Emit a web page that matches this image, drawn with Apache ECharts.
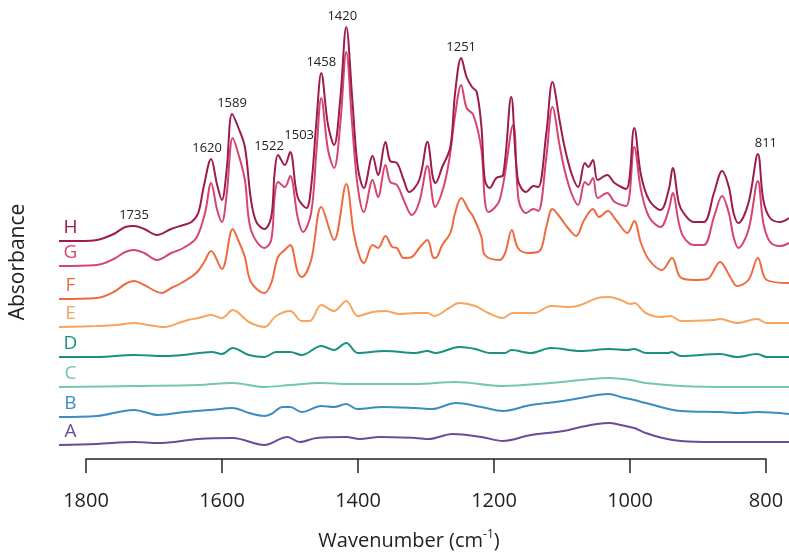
<!DOCTYPE html>
<html>
<head>
<meta charset="utf-8">
<script src="https://cdn.jsdelivr.net/npm/echarts@6/dist/echarts.min.js"></script>
<style>
  html, body { margin: 0; padding: 0; background: #fff; }
  #chart { width: 789px; height: 556px; }
</style>
</head>
<body>
<div id="chart"></div>
<script>
// spectra, [wavenumber, absorbance offset]
const specA = [[1846,0.18],[1790,0.19],[1735,0.21],[1699,0.20],[1640,0.24],[1589,0.25],[1542,0.18],[1535,0.19],[1508,0.26],[1490,0.21],[1465,0.25],[1421,0.26],[1401,0.24],[1372,0.26],[1319,0.25],[1299,0.24],[1264,0.29],[1221,0.26],[1189,0.22],[1148,0.28],[1100,0.32],[1074,0.36],[1050,0.39],[1032,0.40],[1015,0.38],[995,0.35],[978,0.30],[953,0.25],[926,0.22],[877,0.21],[828,0.21],[766,0.21]];
const specB = [[1846,0.46],[1790,0.47],[1735,0.53],[1699,0.48],[1660,0.51],[1623,0.53],[1589,0.55],[1565,0.50],[1542,0.47],[1532,0.49],[1515,0.56],[1504,0.56],[1487,0.51],[1458,0.57],[1439,0.56],[1421,0.59],[1405,0.54],[1367,0.56],[1319,0.55],[1294,0.54],[1259,0.60],[1221,0.56],[1189,0.52],[1148,0.58],[1100,0.62],[1074,0.65],[1050,0.68],[1032,0.69],[1015,0.66],[995,0.63],[978,0.60],[926,0.52],[868,0.51],[838,0.50],[813,0.51],[766,0.49]];
const specC = [[1846,0.76],[1735,0.77],[1640,0.78],[1589,0.80],[1542,0.76],[1504,0.78],[1460,0.80],[1416,0.79],[1319,0.79],[1259,0.81],[1190,0.77],[1120,0.80],[1074,0.83],[1032,0.85],[1000,0.83],[978,0.80],[926,0.77],[850,0.76],[766,0.76]];
const specD = [[1846,1.06],[1790,1.06],[1735,1.08],[1690,1.07],[1662,1.08],[1620,1.11],[1605,1.09],[1589,1.15],[1565,1.08],[1542,1.06],[1525,1.11],[1504,1.11],[1487,1.08],[1458,1.17],[1439,1.13],[1421,1.20],[1404,1.10],[1363,1.12],[1319,1.10],[1301,1.12],[1289,1.10],[1254,1.16],[1230,1.14],[1209,1.10],[1186,1.10],[1177,1.13],[1148,1.10],[1118,1.15],[1074,1.12],[1032,1.14],[1005,1.13],[995,1.14],[978,1.10],[944,1.10],[940,1.11],[926,1.07],[868,1.09],[843,1.06],[813,1.09],[799,1.06],[766,1.06]];
const specE = [[1846,1.36],[1790,1.37],[1760,1.38],[1735,1.40],[1715,1.38],[1690,1.36],[1665,1.41],[1655,1.43],[1640,1.45],[1621,1.48],[1605,1.45],[1589,1.53],[1565,1.41],[1542,1.36],[1525,1.47],[1504,1.52],[1487,1.42],[1475,1.42],[1458,1.58],[1439,1.52],[1421,1.62],[1404,1.47],[1382,1.51],[1363,1.52],[1343,1.49],[1319,1.50],[1301,1.50],[1291,1.47],[1269,1.55],[1254,1.60],[1230,1.57],[1211,1.50],[1189,1.45],[1175,1.50],[1143,1.50],[1118,1.57],[1090,1.56],[1074,1.58],[1049,1.65],[1032,1.66],[1015,1.63],[1000,1.59],[995,1.60],[978,1.50],[956,1.46],[941,1.47],[926,1.42],[877,1.43],[868,1.44],[843,1.40],[813,1.44],[799,1.40],[766,1.40]];
const specF = [[1846,1.64],[1790,1.65],[1765,1.71],[1748,1.79],[1735,1.82],[1720,1.78],[1694,1.70],[1680,1.75],[1665,1.80],[1643,1.90],[1632,2.00],[1621,2.12],[1605,1.94],[1589,2.34],[1581,2.23],[1571,2.06],[1562,1.81],[1542,1.70],[1532,1.80],[1522,2.06],[1512,2.13],[1504,2.18],[1493,1.91],[1487,1.86],[1473,2.03],[1458,2.56],[1439,2.23],[1421,2.79],[1410,2.30],[1401,2.06],[1395,2.00],[1382,2.18],[1374,2.15],[1363,2.27],[1353,2.16],[1346,2.15],[1336,2.05],[1324,2.06],[1313,2.15],[1301,2.23],[1293,2.06],[1289,2.05],[1279,2.18],[1267,2.30],[1260,2.50],[1251,2.65],[1240,2.53],[1233,2.46],[1221,2.26],[1216,2.08],[1194,2.03],[1186,2.10],[1176,2.33],[1167,2.15],[1152,2.10],[1135,2.12],[1125,2.36],[1116,2.54],[1105,2.46],[1093,2.35],[1081,2.27],[1069,2.43],[1056,2.54],[1047,2.46],[1034,2.52],[1022,2.43],[1005,2.30],[995,2.42],[985,2.20],[973,2.03],[954,1.93],[939,2.05],[927,1.86],[907,1.83],[887,1.84],[868,2.01],[853,1.86],[843,1.77],[826,1.83],[812,2.05],[799,1.83],[766,1.80]];
const specG = [[1846,1.97],[1790,1.98],[1765,2.04],[1748,2.11],[1735,2.13],[1720,2.10],[1701,2.03],[1680,2.10],[1662,2.15],[1643,2.25],[1630,2.50],[1621,2.80],[1612,2.53],[1605,2.41],[1598,2.68],[1589,3.25],[1581,3.10],[1571,2.83],[1562,2.33],[1542,2.15],[1532,2.23],[1527,2.66],[1522,2.81],[1512,2.76],[1504,2.87],[1493,2.46],[1485,2.31],[1473,2.50],[1465,3.13],[1458,3.65],[1448,3.13],[1439,2.95],[1430,3.38],[1421,4.11],[1412,3.36],[1404,2.76],[1395,2.51],[1382,2.83],[1374,2.66],[1363,2.98],[1356,2.81],[1346,2.78],[1336,2.63],[1324,2.48],[1313,2.61],[1301,2.97],[1293,2.63],[1290,2.56],[1277,2.76],[1268,3.06],[1260,3.48],[1251,3.78],[1243,3.55],[1233,3.48],[1221,3.13],[1216,2.63],[1211,2.51],[1194,2.63],[1174,3.38],[1166,2.63],[1155,2.50],[1144,2.54],[1137,2.52],[1125,3.06],[1116,3.56],[1105,3.16],[1098,2.93],[1088,2.70],[1078,2.58],[1068,2.81],[1063,2.78],[1056,2.85],[1049,2.65],[1035,2.70],[1024,2.61],[1007,2.57],[995,3.16],[985,2.73],[973,2.46],[956,2.36],[944,2.53],[938,2.70],[929,2.40],[922,2.26],[907,2.18],[892,2.18],[877,2.46],[865,2.67],[855,2.50],[848,2.26],[841,2.15],[826,2.33],[812,2.82],[804,2.40],[794,2.21],[779,2.17],[766,2.20]];
const specH = [[1846,2.22],[1815,2.22],[1790,2.23],[1765,2.29],[1748,2.36],[1735,2.37],[1720,2.34],[1701,2.28],[1680,2.34],[1662,2.38],[1650,2.41],[1640,2.50],[1632,2.76],[1621,3.04],[1612,2.78],[1605,2.63],[1598,2.93],[1590,3.49],[1581,3.36],[1571,3.16],[1562,2.63],[1554,2.41],[1542,2.34],[1532,2.46],[1527,2.90],[1522,3.08],[1512,2.98],[1504,3.11],[1493,2.66],[1480,2.55],[1473,2.76],[1465,3.43],[1458,3.90],[1448,3.38],[1439,3.18],[1430,3.63],[1421,4.36],[1412,3.63],[1404,2.96],[1395,2.75],[1382,3.07],[1374,2.88],[1363,3.21],[1356,3.02],[1346,3.00],[1336,2.83],[1328,2.71],[1313,2.83],[1301,3.21],[1293,2.86],[1289,2.80],[1279,2.96],[1267,3.16],[1260,3.70],[1251,4.05],[1243,3.86],[1235,3.76],[1228,3.71],[1221,3.36],[1216,2.83],[1209,2.75],[1199,2.85],[1189,2.88],[1177,3.66],[1167,2.83],[1155,2.71],[1144,2.77],[1137,2.76],[1125,3.30],[1116,3.81],[1105,3.41],[1098,3.16],[1088,2.90],[1078,2.76],[1068,3.00],[1063,2.96],[1056,3.03],[1049,2.83],[1035,2.88],[1024,2.80],[1007,2.74],[995,3.35],[985,2.88],[973,2.63],[956,2.53],[944,2.73],[938,2.95],[929,2.60],[922,2.50],[907,2.41],[892,2.41],[877,2.70],[865,2.92],[855,2.76],[848,2.50],[841,2.40],[826,2.60],[812,3.09],[804,2.63],[794,2.45],[779,2.41],[766,2.45]];

const seriesNames = ['A', 'B', 'C', 'D', 'E', 'F', 'G', 'H'];
const seriesData = [specA, specB, specC, specD, specE, specF, specG, specH];
const seriesColors = ['#6a4c9c', '#3b8cc2', '#72c8ac', '#1b8f80', '#f7a45c', '#ef6b3f', '#d6456c', '#9c1b50'];
const peakLabels = [1735, 1620, 1589, 1522, 1503, 1458, 1420, 1251, 811];
const tickMin = 800, tickMax = 1800, tickStep = 200;

const FONT = '"Open Sans", sans-serif';
const chart = echarts.init(document.getElementById('chart'), null, { renderer: 'canvas' });

// top of H near a labelled wavenumber
function peakOf(spec, w) {
  let best = null;
  spec.forEach(p => {
    if (Math.abs(p[0] - w) <= 6 && (!best || p[1] > best[1])) best = p;
  });
  return best;
}
const labelShift = { 1620: [-4, 0], 1522: [-9, 2], 1503: [9, -6], 1420: [-4, 0], 811: [8, 0] };

const series = seriesNames.map((name, i) => {
  const s = {
    name: name,
    type: 'line',
    xAxisIndex: 0,
    yAxisIndex: 0,
    data: seriesData[i],
    smooth: 0.35,
    showSymbol: false,
    silent: true,
    lineStyle: { color: seriesColors[i], width: 2 },
    itemStyle: { color: seriesColors[i] },
    markPoint: {
      symbolSize: 0,
      silent: true,
      data: [{
        coord: [1829, seriesData[i][0][1]],
        label: {
          show: true, formatter: name, color: seriesColors[i],
          fontSize: 19, fontFamily: FONT, offset: [0, -13]
        }
      }]
    }
  };
  if (name === 'H') {
    peakLabels.forEach(w => {
      const p = peakOf(specH, w);
      s.markPoint.data.push({
        coord: p,
        label: {
          show: true, formatter: String(w), position: 'top', distance: 4,
          color: '#222', fontSize: 13, fontFamily: FONT,
          offset: labelShift[w] || [0, 0]
        }
      });
    });
  }
  return s;
});

chart.setOption({
  animation: false,
  backgroundColor: '#fff',
  grid: [
    { left: 54, right: 0, top: 13, bottom: 93 },
    { left: 86, right: 23, top: 13, bottom: 93 }
  ],
  xAxis: [
    { type: 'value', gridIndex: 0, min: 766, max: 1846, inverse: true, show: false },
    {
      type: 'value', gridIndex: 1, min: tickMin, max: tickMax, interval: tickStep, inverse: true,
      axisLine: { show: true, lineStyle: { color: '#222', width: 1.5 } },
      axisTick: { show: true, length: 14, lineStyle: { color: '#222', width: 1.5 } },
      axisLabel: { color: '#222', fontSize: 20, fontFamily: FONT, margin: 32, formatter: v => String(v) },
      splitLine: { show: false },
      name: '{a|Wavenumber (cm}{b|-1}{a|)}',
      nameLocation: 'middle',
      nameGap: 70,
      nameTextStyle: {
        padding: [0, 34, 0, 0],
        rich: {
          a: { fontSize: 20, fontFamily: FONT, color: '#222' },
          b: { fontSize: 12, fontFamily: FONT, color: '#222', padding: [0, 0, 12, 0] }
        }
      }
    }
  ],
  yAxis: [
    {
      type: 'value', gridIndex: 0, min: 0, max: 4.5,
      axisLine: { show: false }, axisTick: { show: false }, axisLabel: { show: false },
      splitLine: { show: false },
      name: 'Absorbance', nameLocation: 'middle', nameGap: 30, nameRotate: 90,
      nameTextStyle: { fontSize: 21, fontFamily: FONT, color: '#222', padding: [0, 48, 0, 0] }
    },
    { type: 'value', gridIndex: 1, min: 0, max: 1, show: false }
  ],
  series: series
});
</script>
</body>
</html>
